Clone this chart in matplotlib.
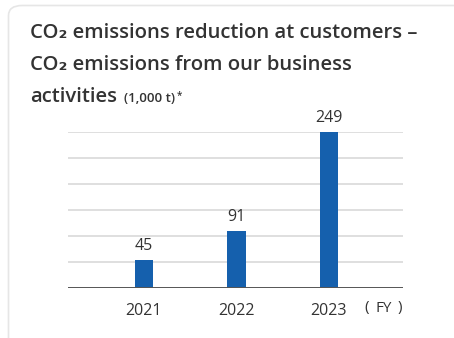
import matplotlib
matplotlib.use("Agg")
import matplotlib.pyplot as plt
from matplotlib.patches import FancyBboxPatch

years = ["2021", "2022", "2023"]
values = [45, 91, 249]
title_lines = ["CO₂ emissions reduction at customers –",
               "CO₂ emissions from our business",
               "activities"]
unit_label = "(1,000 t)"
fy_label = "FY"

W, H = 454, 338
fig = plt.figure(figsize=(W/100, H/100), dpi=100)
fig.patch.set_facecolor("white")

# card border
card = FancyBboxPatch((8.5/W, -20/H), (W+20)/W, (H-5.5+20)/H,
                      boxstyle="round,pad=0,rounding_size=0.03",
                      transform=fig.transFigure, facecolor="white",
                      edgecolor="#e6e6e6", linewidth=1.2, zorder=-10)
fig.patches.append(card)

fam = ["Open Sans", "DejaVu Sans"]
tfont = dict(family=fam, weight="semibold", color="#333333")
fig.text(30/W, 1-38/H, title_lines[0], fontsize=14.6, **tfont)
fig.text(30/W, 1-70/H, title_lines[1], fontsize=14.6, **tfont)
t3 = fig.text(30/W, 1-102/H, title_lines[2], fontsize=14.6, **tfont)
fig.canvas.draw()
bb = t3.get_window_extent()
t4 = fig.text((bb.x1 + 7)/W, 1-102/H, unit_label, fontsize=9.5, **tfont)
fig.canvas.draw()
bb4 = t4.get_window_extent()
fig.text((bb4.x1 + 1.5)/W, 1-98/H, "*", fontsize=7, **tfont)

# axes
x0, x1 = 68, 403
y0, y1 = 288, 132
ax = fig.add_axes([x0/W, 1-y0/H, (x1-x0)/W, (y0-y1)/H])
ax.set_facecolor("none")
xs = list(range(len(years)))
ax.bar(xs, values, width=0.2, color="#1560ad", zorder=3)
ax.set_xlim(-0.82, 2.8)
ax.set_ylim(0, 249)
step = 249/6
for i in range(1, 7):
    ax.axhline(i*step, color="#d9d9d9", lw=1.2, zorder=1)
ax.axhline(0, color="#555555", lw=1.4, zorder=4)
for s in ax.spines.values():
    s.set_visible(False)
ax.set_yticks([])
ax.set_xticks(xs)
ax.set_xticklabels(years, fontsize=11.5, color="#333333", family=fam)
ax.tick_params(axis="x", length=0, pad=11)
for x, v in zip(xs, values):
    ax.annotate(str(v), (x, v), xytext=(0, 4), textcoords="offset points",
                ha="center", va="bottom", fontsize=11.5, color="#333333",
                family=fam)
fy = dict(fontsize=11, color="#333333", va="center", family=fam)
fig.text(367/W, 1-308/H, "(", ha="center", **fy)
fig.text(384/W, 1-308/H, fy_label, ha="center", **fy)
fig.text(400/W, 1-308/H, ")", ha="center", **fy)

fig.savefig("out.png", dpi=100, facecolor="white")
